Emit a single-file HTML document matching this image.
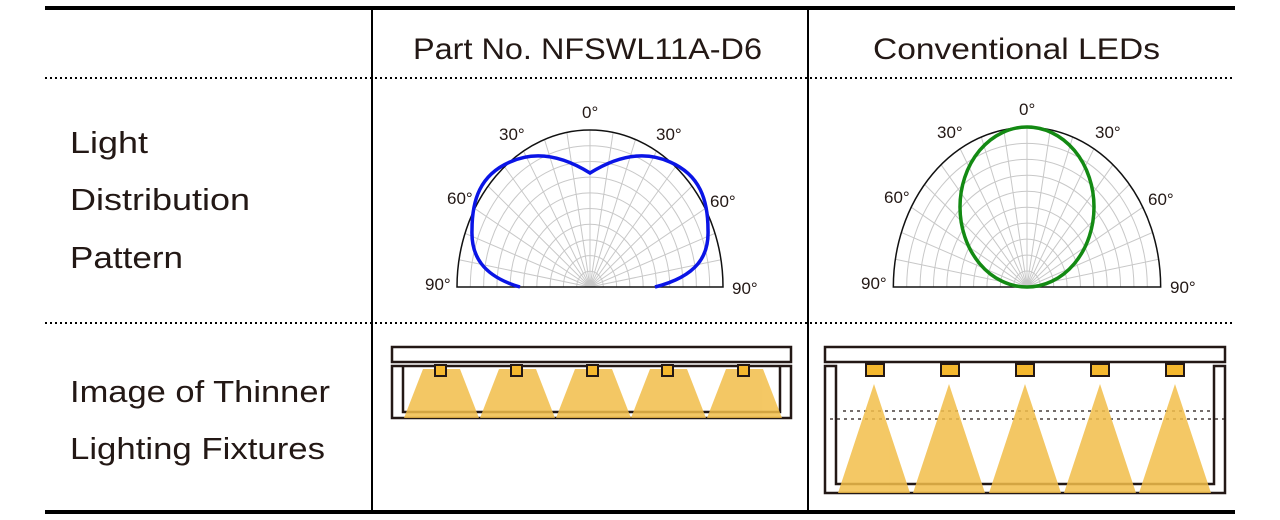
<!DOCTYPE html>
<html><head><meta charset="utf-8"><style>
html,body{margin:0;padding:0;background:#fff;}
svg{display:block;}
text{font-family:"Liberation Sans",sans-serif;fill:#231815;}
</style></head><body>
<svg width="1280" height="520" viewBox="0 0 1280 520" xmlns="http://www.w3.org/2000/svg">
<defs>
<g id="grid">
  <g fill="none" stroke="#c8c8c8" stroke-width="1">
    <path vector-effect="non-scaling-stroke" d="M-13.3,0 A13.3,13.3 0 0 1 13.3,0 M-26.6,0 A26.6,26.6 0 0 1 26.6,0 M-39.9,0 A39.9,39.9 0 0 1 39.9,0 M-53.2,0 A53.2,53.2 0 0 1 53.2,0 M-66.5,0 A66.5,66.5 0 0 1 66.5,0 M-79.8,0 A79.8,79.8 0 0 1 79.8,0 M-93.1,0 A93.1,93.1 0 0 1 93.1,0 M-106.4,0 A106.4,106.4 0 0 1 106.4,0 M-119.7,0 A119.7,119.7 0 0 1 119.7,0"/>
    <path vector-effect="non-scaling-stroke" d="M0,0 L0,-133 M0,0 L23.1,-131 M0,0 L-23.1,-131 M0,0 L45.5,-125 M0,0 L-45.5,-125 M0,0 L66.5,-115.2 M0,0 L-66.5,-115.2 M0,0 L85.5,-101.9 M0,0 L-85.5,-101.9 M0,0 L101.9,-85.5 M0,0 L-101.9,-85.5 M0,0 L115.2,-66.5 M0,0 L-115.2,-66.5 M0,0 L125,-45.5 M0,0 L-125,-45.5 M0,0 L131,-23.1 M0,0 L-131,-23.1"/>
  </g>
  <path vector-effect="non-scaling-stroke" d="M-133,0 A133,133 0 0 1 133,0 Z" fill="none" stroke="#111" stroke-width="1.5"/>
</g>
</defs>

<rect x="45" y="6" width="1190" height="4" fill="#000"/>
<rect x="45" y="510" width="1190" height="4" fill="#000"/>
<line x1="372" y1="10" x2="372" y2="510" stroke="#000" stroke-width="2"/>
<line x1="808" y1="10" x2="808" y2="510" stroke="#000" stroke-width="2"/>
<line x1="45" y1="78" x2="1235" y2="78" stroke="#000" stroke-width="2" stroke-dasharray="2 3"/>
<line x1="45" y1="323" x2="1235" y2="323" stroke="#000" stroke-width="2" stroke-dasharray="2 3"/>

<text x="413" y="59" font-size="30" textLength="349" lengthAdjust="spacingAndGlyphs">Part No. NFSWL11A-D6</text>
<text x="873" y="59" font-size="30" textLength="287" lengthAdjust="spacingAndGlyphs">Conventional LEDs</text>

<text x="70" y="153" font-size="31" textLength="78" lengthAdjust="spacingAndGlyphs">Light</text>
<text x="70" y="210" font-size="31" textLength="180" lengthAdjust="spacingAndGlyphs">Distribution</text>
<text x="70" y="268" font-size="31" textLength="113" lengthAdjust="spacingAndGlyphs">Pattern</text>
<text x="70" y="402" font-size="31" textLength="260" lengthAdjust="spacingAndGlyphs">Image of Thinner</text>
<text x="70" y="459" font-size="31" textLength="255" lengthAdjust="spacingAndGlyphs">Lighting Fixtures</text>

<g transform="translate(590,287) scale(1,1.18)"><use href="#grid"/></g>
<path d="M520,287 C482,276 471,255 472,230 C472,200 480,175 510,162 C532,152 558,153 590,173 C622,153 648,152 670,162 C700,175 708,200 708,230 C709,255 698,276 655,287" fill="none" stroke="#0a14e6" stroke-width="3.5"/>
<g font-size="17">
<text x="582" y="118">0°</text>
<text x="499" y="140">30°</text>
<text x="656" y="140">30°</text>
<text x="447" y="204">60°</text>
<text x="710" y="207">60°</text>
<text x="425" y="290">90°</text>
<text x="732" y="294">90°</text>
</g>

<g transform="translate(1027,287) scale(1.005,1.2)"><use href="#grid"/></g>
<ellipse cx="1027" cy="207" rx="67" ry="80" fill="none" stroke="#138a13" stroke-width="3.5"/>
<g font-size="17">
<text x="1019" y="115">0°</text>
<text x="937" y="138">30°</text>
<text x="1095" y="138">30°</text>
<text x="884" y="203">60°</text>
<text x="1148" y="205">60°</text>
<text x="861" y="289">90°</text>
<text x="1170" y="293">90°</text>
</g>

<g stroke="#231815" stroke-width="2.5" fill="none">
  <rect x="392" y="347" width="399" height="15"/>
  <rect x="392" y="366" width="399" height="52"/>
  <path d="M403,366 V412 H780 V366"/>
</g>
<g fill="#f2be4a" opacity="0.85">
  <polygon points="423,369 460,369 479,418 404,418"/>
  <polygon points="499,369 536,369 555,418 480,418"/>
  <polygon points="575,369 612,369 631,418 556,418"/>
  <polygon points="650,369 687,369 706,418 631,418"/>
  <polygon points="726,369 763,369 782,418 707,418"/>
</g>
<g fill="#f5b82e" stroke="#231815" stroke-width="2">
  <rect x="435" y="365" width="11" height="11"/>
  <rect x="511" y="365" width="11" height="11"/>
  <rect x="587" y="365" width="11" height="11"/>
  <rect x="662" y="365" width="11" height="11"/>
  <rect x="738" y="365" width="11" height="11"/>
</g>

<g stroke="#231815" stroke-width="2.5" fill="none">
  <rect x="825" y="347" width="400" height="15"/>
  <path d="M825,366 V493 H1225 V366 H1214 V484 H836 V366 Z"/>
</g>
<g stroke="#231815" stroke-width="1.2" stroke-dasharray="3 4">
  <line x1="843" y1="411" x2="1215" y2="411"/>
  <line x1="830" y1="419" x2="1228" y2="419"/>
</g>
<g fill="#f2be4a" opacity="0.85">
  <polygon points="874,384 910,493 838,493"/>
  <polygon points="949,384 985,493 913,493"/>
  <polygon points="1025,384 1061,493 989,493"/>
  <polygon points="1100,384 1136,493 1064,493"/>
  <polygon points="1175,384 1211,493 1139,493"/>
</g>
<g fill="#f5b82e" stroke="#231815" stroke-width="2">
  <rect x="866" y="364" width="18" height="12"/>
  <rect x="941" y="364" width="18" height="12"/>
  <rect x="1016" y="364" width="18" height="12"/>
  <rect x="1091" y="364" width="18" height="12"/>
  <rect x="1166" y="364" width="18" height="12"/>
</g>
</svg>
</body></html>
